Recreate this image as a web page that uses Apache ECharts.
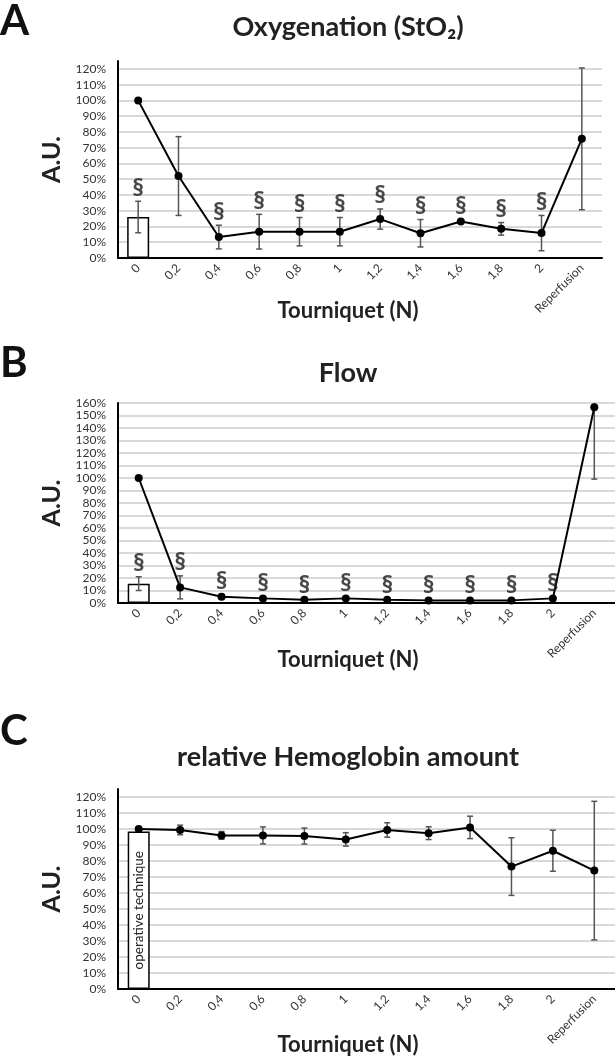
<!DOCTYPE html>
<html><head><meta charset="utf-8">
<script src="https://cdn.jsdelivr.net/npm/echarts@6/dist/echarts.min.js"></script>
<style>html,body{margin:0;padding:0;background:#fff}#c{width:615px;height:1056px}</style>
</head><body><div id="c"></div>
<script>
const categories = ['0','0,2','0,4','0,6','0,8','1','1,2','1,4','1,6','1,8','2','Reperfusion'];

// Panel A: Oxygenation (StO2)
const oxyMean = [100, 52, 13.3, 16.7, 16.7, 16.7, 24.7, 15.7, 23.2, 18.5, 15.8, 75.6];
const oxyErr  = [0, 25, 7.5, 11, 9, 9, 6.4, 8.7, 1, 4, 11.2, 45];
const oxyBar = 26;
const oxyBarErr = 10;
const oxySigBar = true;
const oxySigLine = [0,0,1,1,1,1,1,1,1,1,1,0];

// Panel B: Flow
const flowMean = [100, 12.5, 5, 3.7, 2.6, 3.7, 2.6, 2.1, 2.1, 2.1, 3.7, 156.6];
const flowErr  = [0, 9.2, 1.5, 1, 1, 1, 1, 1, 1, 1, 1, 57.5];
const flowBar = 15.5;
const flowBarErr = 5.5;
const flowSigBar = true;
const flowSigLine = [0,1,1,1,1,1,1,1,1,1,1,0];

// Panel C: relative Hemoglobin amount
const hbMean = [100, 99.4, 96, 96, 95.6, 93.5, 99.4, 97.4, 101, 76.5, 86.4, 74];
const hbErr  = [0, 3, 2.4, 5.3, 5, 4.2, 4.5, 4, 7, 18, 12.8, 43.3];
const hbBar = 98.5;
const hbBarErr = 0;
const hbBarLabel = 'operative technique';

const titles = ['Oxygenation (StO\u2082)', 'Flow', 'relative Hemoglobin amount'];
const letters = ['A', 'B', 'C'];
const xName = 'Tourniquet (N)';
const yName = 'A.U.';
const yMax = [125, 160, 125];

const FONT = 'Lato, "Open Sans", sans-serif';
const grids = [
  {left:118, right:13, top:61, bottom:798},
  {left:118, right:0, top:403, bottom:453},
  {left:118, right:0, top:789, bottom:67}
];

function xAxisCfg(i){
  return {type:'category', gridIndex:i, data:categories, boundaryGap:true,
    axisLine:{lineStyle:{color:'#000', width:2}}, axisTick:{show:false},
    axisLabel:{rotate:45, interval:0, fontSize:12, color:'#333', margin:8, fontFamily:FONT}};
}
function yAxisCfg(i){
  return {type:'value', gridIndex:i, min:0, max:yMax[i], interval:10,
    axisLine:{show:true, lineStyle:{color:'#000', width:2}}, axisTick:{show:false},
    axisLabel:{formatter:'{value}%', fontSize:12, color:'#333', margin:12, fontFamily:FONT, showMaxLabel: yMax[i] % 10 === 0},
    splitLine:{show:true, showMaxLine: yMax[i] % 10 === 0, lineStyle:{color:'#d9d9d9', width:2}},
    name:yName, nameLocation:'middle', nameGap:44, nameRotate:90,
    nameTextStyle:{fontSize:25, fontWeight:'bold', color:'#222', fontFamily:FONT}};
}
function barSeries(i, val, label){
  return {type:'bar', xAxisIndex:i, yAxisIndex:i, barWidth:22, z:2,
    data: categories.map((c,k)=> k===0 ? val : '-'),
    itemStyle:{color:'#fff', borderColor:'#000', borderWidth:1.5},
    label: label ? {show:true, position:'inside', rotate:90, formatter:label, fontSize:13.5, color:'#222', fontFamily:FONT} : {show:false},
    emphasis:{disabled:true}};
}
function lineSeries(i, mean){
  return {type:'line', xAxisIndex:i, yAxisIndex:i, data:mean, z:6,
    symbol:'circle', symbolSize:8, itemStyle:{color:'#000'},
    lineStyle:{color:'#000', width:2}, emphasis:{disabled:true}};
}
function errSeries(i, mean, err, barVal, barErr){
  const data = [];
  mean.forEach((m,k)=>{ if (err[k] > 0) data.push([k, m - err[k], m + err[k]]); });
  if (barErr > 0) data.push([0, barVal - barErr, barVal + barErr]);
  const axisMax = yMax[i];
  return {type:'custom', xAxisIndex:i, yAxisIndex:i, z:4, data, silent:true,
    encode:{x:0, y:[1,2]},
    renderItem(params, api){
      const x = api.value(0);
      const lo = Math.max(0, api.value(1));
      const hiRaw = api.value(2);
      const hi = Math.min(axisMax, hiRaw);
      const p1 = api.coord([x, lo]);
      const p2 = api.coord([x, hi]);
      const cw = 3;
      const style = {stroke:'#555', lineWidth:1.5};
      const ch = [
        {type:'line', shape:{x1:p1[0], y1:p1[1], x2:p2[0], y2:p2[1]}, style},
        {type:'line', shape:{x1:p1[0]-cw, y1:p1[1], x2:p1[0]+cw, y2:p1[1]}, style}
      ];
      if (hiRaw <= axisMax) ch.push({type:'line', shape:{x1:p2[0]-cw, y1:p2[1], x2:p2[0]+cw, y2:p2[1]}, style});
      return {type:'group', children:ch};
    }};
}
function sigSeries(i, mean, err, sigLine, barVal, barErr, sigBar){
  const data = [];
  if (sigBar) data.push([0, barVal + barErr]);
  sigLine.forEach((s,k)=>{ if (s) data.push([k, mean[k] + err[k]]); });
  return {type:'scatter', xAxisIndex:i, yAxisIndex:i, symbolSize:1, silent:true, z:7,
    itemStyle:{color:'transparent'}, data,
    label:{show:true, formatter:'\u00a7', position:'top', distance:0, fontSize:24, fontWeight:'bold', color:'#1a1a1a', fontFamily:'"Open Sans", sans-serif'}};
}

const titleY = [27, 373, 757];
const letterY = [21, 363, 731];
const xNameY = [311, 660, 1045];
const graphic = [];
for (let i = 0; i < 3; i++) {
  graphic.push({type:'text', x:0, y:letterY[i], style:{text:letters[i], font:'bold 42px ' + FONT, fill:'#111', textAlign:'left', verticalAlign:'middle'}});
  graphic.push({type:'text', x:348, y:titleY[i], style:{text:titles[i], font:'bold 27px ' + FONT, fill:'#222', textAlign:'center', verticalAlign:'middle'}});
  graphic.push({type:'text', x:348, y:xNameY[i], style:{text:xName, font:'bold 22px ' + FONT, fill:'#222', textAlign:'center', verticalAlign:'middle'}});
}

const chart = echarts.init(document.getElementById('c'), null, {renderer:'canvas'});
chart.setOption({
  animation:false,
  backgroundColor:'#fff',
  textStyle:{fontFamily:FONT},
  grid: grids,
  xAxis: [0,1,2].map(xAxisCfg),
  yAxis: [0,1,2].map(yAxisCfg),
  graphic,
  series: [
    barSeries(0, oxyBar), errSeries(0, oxyMean, oxyErr, oxyBar, oxyBarErr), lineSeries(0, oxyMean),
    sigSeries(0, oxyMean, oxyErr, oxySigLine, oxyBar, oxyBarErr, oxySigBar),
    barSeries(1, flowBar), errSeries(1, flowMean, flowErr, flowBar, flowBarErr), lineSeries(1, flowMean),
    sigSeries(1, flowMean, flowErr, flowSigLine, flowBar, flowBarErr, flowSigBar),
    barSeries(2, hbBar, hbBarLabel), errSeries(2, hbMean, hbErr, hbBar, hbBarErr), lineSeries(2, hbMean)
  ]
});
</script></body></html>
